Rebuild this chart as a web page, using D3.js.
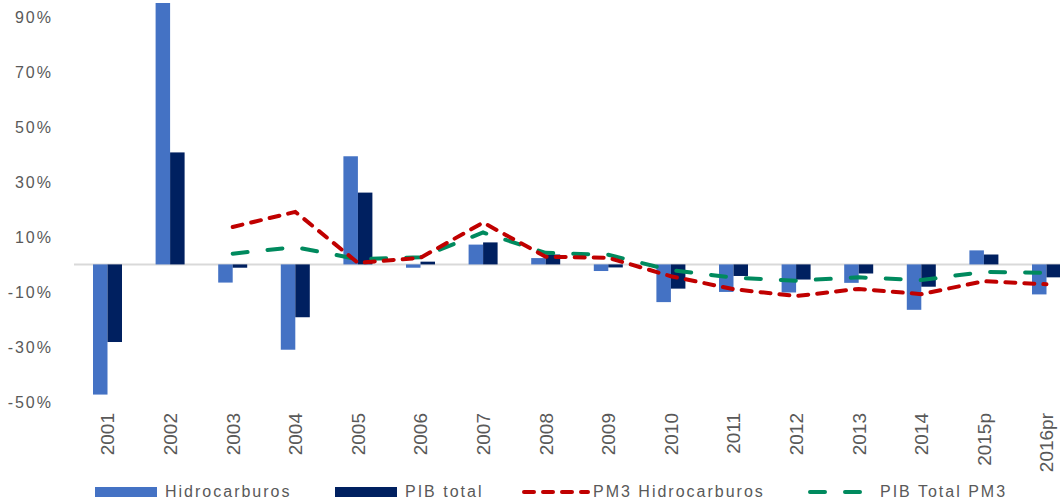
<!DOCTYPE html>
<meta charset="utf-8">
<head>
<style>
  body { margin: 0; background: #fff; }
  svg text { fill: #595959; }
</style>
</head>
<title>Hidrocarburos</title>
<script src="https://d3js.org/d3.v7.min.js"></script>
<div id="chart"></div>
<script>
// categorias y series
var years = ["2001","2002","2003","2004","2005","2006","2007","2008","2009","2010","2011","2012","2013","2014","2015p","2016pr"];
var hidrocarburos = [-47.3, 95, -6.6, -31.0, 39.3, -1.2, 7.2, 2.3, -2.4, -13.7, -10.0, -10.2, -6.7, -16.5, 5.1, -10.9];
var pibTotal = [-28.2, 40.7, -1.2, -19.2, 26.1, 1.0, 8.0, 3.6, -1.1, -8.8, -4.2, -5.5, -3.3, -8.1, 3.6, -4.7];
// promedios moviles 3 periodos (desde 2003)
var pm3Hidro = [null, null, 13.6, 19.1, 0.6, 2.4, 15.2, 2.8, 2.4, -4.3, -9.0, -11.5, -8.9, -10.8, -6.1, -7.2];
var pm3Pib = [null, null, 3.9, 6.3, 1.9, 2.6, 11.6, 4.2, 3.5, -2.1, -4.8, -5.9, -4.7, -5.7, -2.7, -3.1];
var yTicks = [-50, -30, -10, 10, 30, 50, 70, 90];
var legendLabels = ["Hidrocarburos", "PIB total", "PM3 Hidrocarburos", "PIB Total PM3"];

var W = 1060, H = 502;
var svg = d3.select("#chart").append("svg")
  .attr("width", W).attr("height", H)
  .style("display", "block");

var x = d3.scaleBand()
  .domain(years)
  .range([76.2, 1077.8])
  .padding(0);

var groupW = 29;
var x1 = d3.scaleBand()
  .domain(["h", "p"])
  .range([x.bandwidth()/2 - groupW/2, x.bandwidth()/2 + groupW/2]);

var y = d3.scaleLinear()
  .domain([-50, 95])
  .range([402, 3]);

// Y axis labels (no line, no gridlines)
svg.append("g").selectAll("text")
  .data(yTicks)
  .enter().append("text")
    .attr("x", 53)
    .attr("y", function(d) { return y(d); })
    .attr("dy", "0.36em")
    .attr("text-anchor", "end")
    .style("font-family", "Liberation Sans, Arial, sans-serif")
    .style("font-size", "16px")
    .style("letter-spacing", "2px")
    .text(function(d) { return d + "%"; });

// zero line
svg.append("line")
  .attr("x1", 74).attr("x2", W)
  .attr("y1", y(0)).attr("y2", y(0))
  .attr("stroke", "#d9d9d9")
  .attr("stroke-width", 2);

// bars
var bars = svg.append("g");
bars.selectAll("rect.h")
  .data(hidrocarburos)
  .enter().append("rect")
    .attr("class", "h")
    .attr("x", function(d, i) { return x(years[i]) + x1("h"); })
    .attr("width", x1.bandwidth())
    .attr("y", function(d) { return y(Math.max(0, d)); })
    .attr("height", function(d) { return Math.abs(y(d) - y(0)); })
    .attr("fill", "#4472C4");

bars.selectAll("rect.p")
  .data(pibTotal)
  .enter().append("rect")
    .attr("class", "p")
    .attr("x", function(d, i) { return x(years[i]) + x1("p"); })
    .attr("width", x1.bandwidth())
    .attr("y", function(d) { return y(Math.max(0, d)); })
    .attr("height", function(d) { return Math.abs(y(d) - y(0)); })
    .attr("fill", "#002060");

// lines
var line = d3.line()
  .defined(function(d) { return d != null; })
  .x(function(d, i) { return x(years[i]) + x.bandwidth()/2; })
  .y(function(d) { return y(d); });

svg.append("path")
  .datum(pm3Pib)
  .attr("d", line)
  .attr("fill", "none")
  .attr("stroke", "#008A5E")
  .attr("stroke-width", 4)
  .attr("stroke-linecap", "round")
  .attr("stroke-dasharray", "15 20");

svg.append("path")
  .datum(pm3Hidro)
  .attr("d", line)
  .attr("fill", "none")
  .attr("stroke", "#C00000")
  .attr("stroke-width", 4)
  .attr("stroke-linecap", "round")
  .attr("stroke-dasharray", "10 9");

// x labels rotated
svg.append("g").selectAll("text")
  .data(years)
  .enter().append("text")
    .attr("transform", function(d) {
      return "translate(" + (x(d) + x.bandwidth()/2) + ",413) rotate(-90)";
    })
    .attr("dy", "0.36em")
    .attr("text-anchor", "end")
    .style("font-family", "Liberation Sans Narrow, Liberation Sans, Arial, sans-serif")
    .style("font-size", "19px")
    .text(function(d) { return d; });

// legend
var legend = svg.append("g");
var legY = 492;
legend.append("rect").attr("x", 95).attr("y", 487).attr("width", 62).attr("height", 10).attr("fill", "#4472C4");
legend.append("rect").attr("x", 335).attr("y", 487).attr("width", 62).attr("height", 10).attr("fill", "#002060");
legend.append("line").attr("x1", 524).attr("x2", 588).attr("y1", legY).attr("y2", legY)
  .attr("stroke", "#C00000").attr("stroke-width", 4).attr("stroke-linecap", "round").attr("stroke-dasharray", "10 9");
legend.append("line").attr("x1", 810).attr("x2", 862).attr("y1", legY).attr("y2", legY)
  .attr("stroke", "#008A5E").attr("stroke-width", 4).attr("stroke-linecap", "round").attr("stroke-dasharray", "15 20");

var legX = [165, 405, 593, 880];
legend.selectAll("text")
  .data(legendLabels)
  .enter().append("text")
    .attr("x", function(d, i) { return legX[i]; })
    .attr("y", 497)
    .style("font-family", "Liberation Sans, Arial, sans-serif")
    .style("font-size", "16px")
    .style("letter-spacing", "2px")
    .text(function(d) { return d; });
</script>
